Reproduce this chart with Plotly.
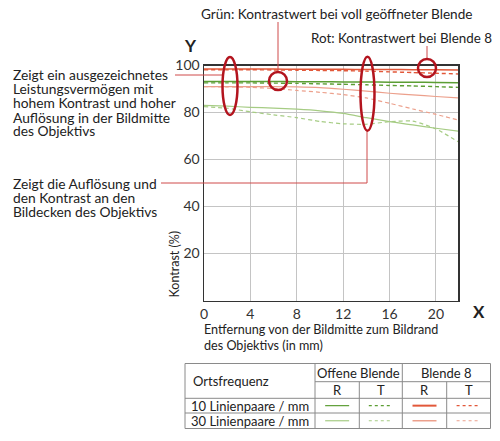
import plotly.graph_objects as go

W, H = 500, 441

# ---- data ----
distance_mm = [0, 2, 4, 6, 8, 10, 12, 14, 16, 18, 20, 21.9]
open_10_R = [93.2, 93.2, 93.2, 93.2, 93.1, 93.1, 93.0, 93.0, 92.9, 92.9, 92.8, 92.7]
open_10_T = [92.6, 92.6, 92.6, 92.5, 92.4, 92.2, 92.0, 91.8, 91.5, 91.3, 91.0, 90.7]
open_30_R = [83.0, 82.7, 82.2, 81.9, 81.4, 80.7, 79.6, 77.8, 76.1, 74.7, 73.3, 72.1]
open_30_T = [82.5, 81.8, 80.3, 79.0, 77.8, 76.2, 75.2, 75.0, 76.1, 76.3, 73.0, 67.6]
f8_10_R = [98.5, 98.5, 98.5, 98.5, 98.4, 98.4, 98.4, 98.3, 98.3, 98.2, 98.2, 98.1]
f8_10_T = [98.2, 98.2, 98.2, 98.1, 98.0, 97.9, 97.8, 97.6, 97.3, 97.0, 96.7, 96.4]
f8_30_R = [91.0, 91.0, 91.0, 91.0, 90.9, 90.6, 89.9, 89.1, 88.2, 87.5, 86.8, 86.2]
f8_30_T = [91.0, 90.9, 90.7, 90.2, 89.4, 88.6, 87.6, 86.2, 83.9, 81.5, 79.2, 76.8]

x_ticks = [0, 4, 8, 12, 16, 20]
y_ticks = [20, 40, 60, 80, 100]

note_center = ["Zeigt ein ausgezeichnetes", "Leistungsvermögen mit", "hohem Kontrast und hoher",
               "Auflösung in der Bildmitte", "des Objektivs"]
note_corner = ["Zeigt die Auflösung und", "den Kontrast an den", "Bildecken des Objektivs"]

table_header = ["Ortsfrequenz", "Offene Blende", "Blende 8"]
table_sub = ["R", "T", "R", "T"]
table_rows = ["10 Linienpaare / mm", "30 Linienpaare / mm"]

FONT = "Lato, 'Open Sans', sans-serif"
G10, G30 = "#5c9e34", "#a6cc84"
R10, R30 = "#e2583a", "#eca08c"
DARKRED = "#b3141e"
LINKRED = "#cf4a4a"

series = [
    (open_30_R, G30, "solid", 1.2), (open_30_T, G30, "dash", 1.2),
    (f8_30_R, R30, "solid", 1.2), (f8_30_T, R30, "dash", 1.2),
    (open_10_R, G10, "solid", 1.5), (open_10_T, G10, "dash", 1.4),
    (f8_10_R, R10, "solid", 1.5), (f8_10_T, R10, "dash", 1.4),
]

fig = go.Figure()
for ys, col, dash, w in series:
    fig.add_trace(go.Scatter(x=distance_mm, y=ys, mode="lines",
                             line=dict(color=col, width=w, dash="4px,3px" if dash == "dash" else "solid",
                                       shape="spline", smoothing=0.6),
                             showlegend=False, hoverinfo="skip"))

def px(x):
    return x / W

def py(y):
    return 1 - y / H

X0, X1, Y0, Y1 = 204, 458, 65.5, 300.5

fig.update_layout(
    template="none",
    width=W, height=H, margin=dict(l=0, r=0, t=0, b=0, pad=0), autosize=False,
    paper_bgcolor="white", plot_bgcolor="white",
    font=dict(family=FONT, color="#222"),
    xaxis=dict(domain=[px(X0), px(X1)], range=[0, 21.9], tickvals=x_ticks, automargin=False,
               ticktext=[str(v) for v in x_ticks], showgrid=True, gridcolor="#c4c4c4",
               gridwidth=1, zeroline=False, showline=True, linecolor="#333", linewidth=1.5,
               mirror=True, ticks="", ticklabeloverflow="allow",
               tickfont=dict(size=14, color="#333", family=FONT)),
    yaxis=dict(domain=[py(Y1), py(Y0)], range=[0, 100], tickvals=y_ticks, automargin=False,
               ticktext=[str(v) for v in y_ticks], showgrid=True, gridcolor="#c4c4c4",
               gridwidth=1, zeroline=False, showline=True, linecolor="#333", linewidth=1.5,
               mirror=True, ticks="", ticklabeloverflow="allow",
               tickfont=dict(size=14, color="#333", family=FONT)),
)

ann = []
def text(x, y, s, size=13, xanchor="left", yanchor="middle", bold=False, angle=0, align="left"):
    ann.append(dict(x=px(x), y=py(y), xref="paper", yref="paper", text=f"<b>{s}</b>" if bold else s,
                    showarrow=False, xanchor=xanchor, yanchor=yanchor, textangle=angle, align=align,
                    font=dict(size=size, family=FONT, color="#222")))

text(336, 14, "Grün: Kontrastwert bei voll geöffneter Blende", size=13.6, xanchor="center")
text(401, 38, "Rot: Kontrastwert bei Blende 8", size=13.4, xanchor="center")
text(190, 45, "Y", size=17, xanchor="center", bold=True)
text(479, 311, "X", size=17, xanchor="center", bold=True)
text(173.5, 264, "Kontrast (%)", size=12.5, angle=-90, xanchor="center")
text(202, 329, "Entfernung von der Bildmitte zum Bildrand", size=12.6)
text(202, 345, "des Objektivs (in mm)", size=12.6)
for i, s in enumerate(note_center):
    text(11, 75 + 14 * i, s, size=13.8)
for i, s in enumerate(note_corner):
    text(11, 183.3 + 14.2 * i, s, size=13.8)

shapes = []
def line(x0, y0, x1, y1, color, width=1, dash="solid"):
    shapes.append(dict(type="line", xref="paper", yref="paper", x0=px(x0), y0=py(y0), x1=px(x1), y1=py(y1),
                       line=dict(color=color, width=width, dash=dash)))

def ellipse(cx, cy, w, h):
    shapes.append(dict(type="circle", xref="paper", yref="paper", x0=px(cx - w / 2), x1=px(cx + w / 2),
                       y0=py(cy + h / 2), y1=py(cy - h / 2), line=dict(color=DARKRED, width=2.5)))

# connector lines
line(278, 22, 278, 72, LINKRED)
line(427, 46, 427, 59, LINKRED)
line(175, 75, 223, 75, LINKRED)
line(161, 183, 367, 183, LINKRED)
line(367, 183, 367, 131, LINKRED)

ellipse(230, 86, 15, 58)
ellipse(278, 81, 18, 18)
ellipse(367.5, 93.7, 14, 74)
ellipse(427, 68, 18, 18)

# ---- table ----
TL, TR = 185, 490.5
rows_y = [363.5, 381.7, 398.3, 413, 428.5]
cols_x = [TL, 315, 359.3, 402.3, 446.7, TR]
GRAY = "#8a8a8a"
shapes.append(dict(type="rect", xref="paper", yref="paper", x0=px(TL), x1=px(TR), y0=py(rows_y[-1]),
                   y1=py(rows_y[0]), line=dict(color=GRAY, width=1)))
line(cols_x[1], rows_y[0], cols_x[1], rows_y[-1], GRAY)
line(cols_x[3], rows_y[0], cols_x[3], rows_y[-1], GRAY)
line(cols_x[2], rows_y[1], cols_x[2], rows_y[-1], GRAY)
line(cols_x[4], rows_y[1], cols_x[4], rows_y[-1], GRAY)
line(cols_x[1], rows_y[1], TR, rows_y[1], GRAY)
line(TL, rows_y[2], TR, rows_y[2], GRAY)
line(TL, rows_y[3], TR, rows_y[3], GRAY)

TS = 13
text(191, (rows_y[0] + rows_y[2]) / 2, table_header[0], size=TS)
text((cols_x[1] + cols_x[3]) / 2, (rows_y[0] + rows_y[1]) / 2, table_header[1], size=TS, xanchor="center")
text((cols_x[3] + cols_x[5]) / 2, (rows_y[0] + rows_y[1]) / 2, table_header[2], size=TS, xanchor="center")
for i, s in enumerate(table_sub):
    text((cols_x[i + 1] + cols_x[i + 2]) / 2, (rows_y[1] + rows_y[2]) / 2, s, size=TS, xanchor="center")
for r, s in enumerate(table_rows):
    text(189, (rows_y[2 + r] + rows_y[3 + r]) / 2, s, size=TS)

samples = [
    [(G10, "solid", 1.2), (G10, "dot", 1.2), (R10, "solid", 2), (R10, "dot", 1.2)],
    [(G30, "solid", 1.2), (G30, "dot", 1.2), (R30, "solid", 1.5), (R30, "dot", 1.2)],
]
for r, row in enumerate(samples):
    yy = (rows_y[2 + r] + rows_y[3 + r]) / 2
    for c, (col, d, w) in enumerate(row):
        cx = (cols_x[c + 1] + cols_x[c + 2]) / 2
        line(cx - 12, yy, cx + 12, yy, col, width=w, dash=d)

fig.update_layout(annotations=ann, shapes=shapes)
post = ("document.documentElement.style.margin='0';document.body.style.margin='0';"
        "document.body.style.overflow='hidden';"
        "var d=document.getElementById('{plot_id}');d.style.position='fixed';"
        "d.style.top='0px';d.style.left='0px';window.scrollTo(0,0);")
fig.write_html("out.html", config={"displayModeBar": False, "staticPlot": True}, post_script=post)
